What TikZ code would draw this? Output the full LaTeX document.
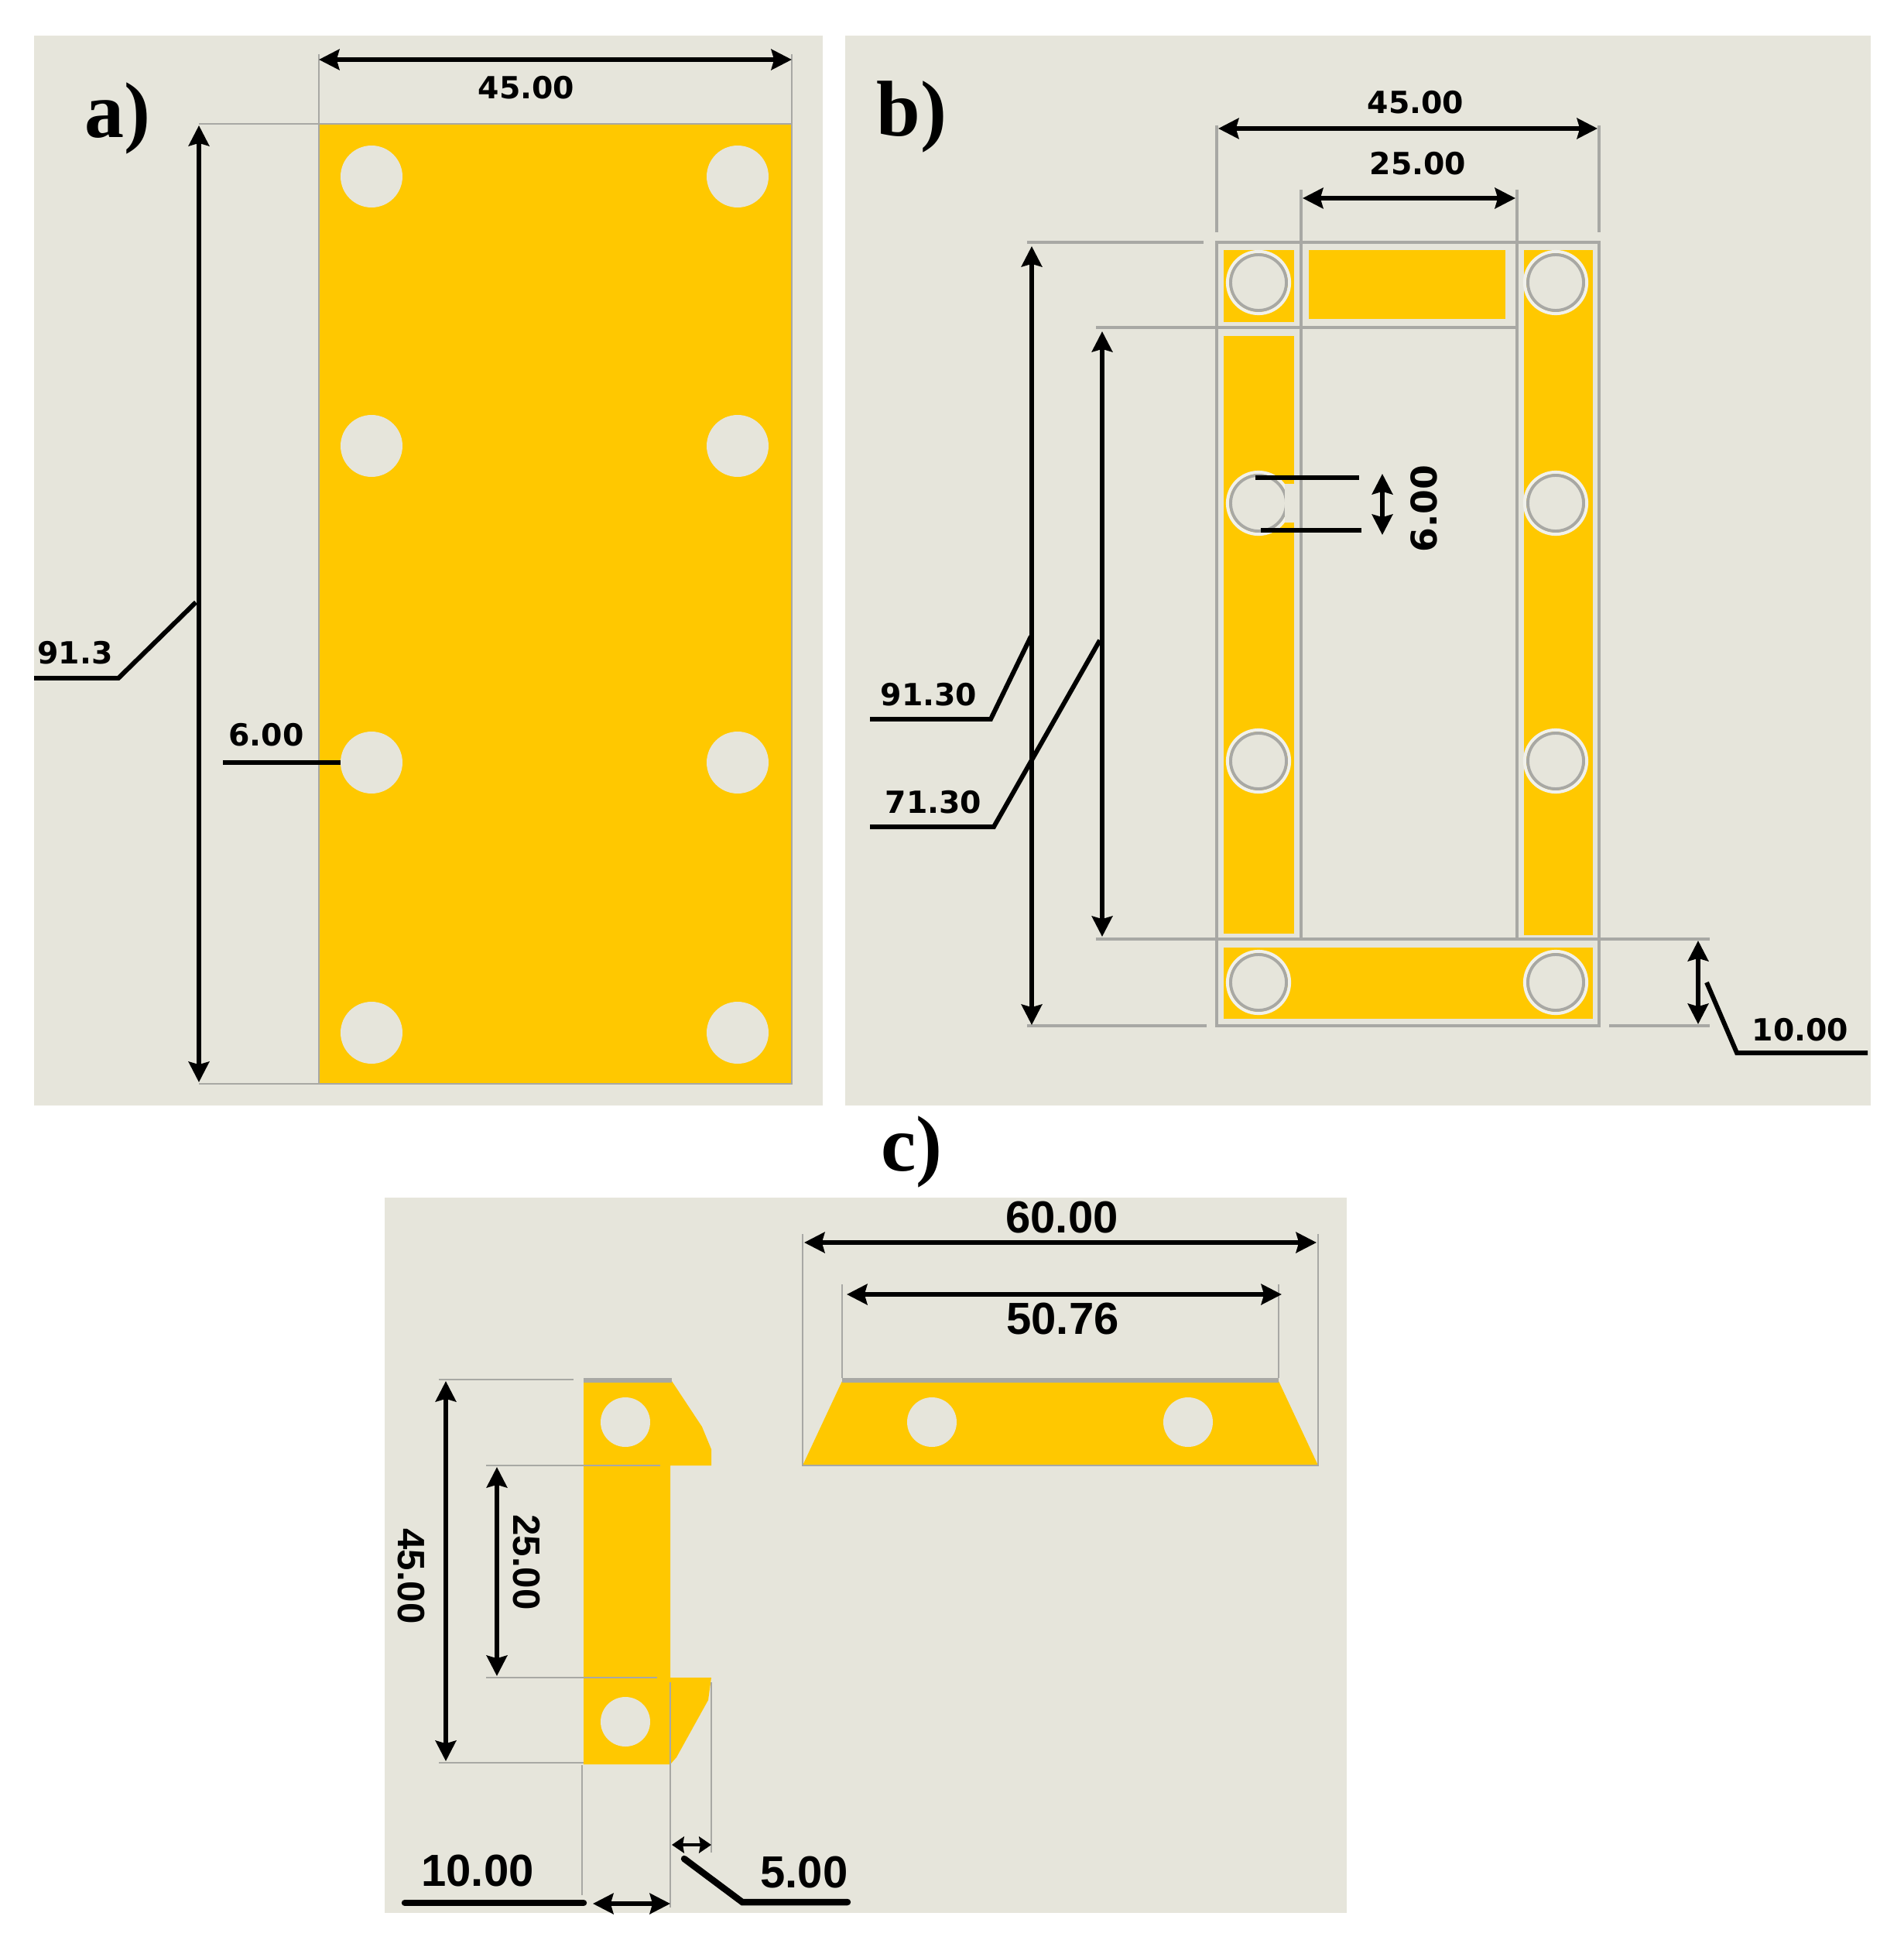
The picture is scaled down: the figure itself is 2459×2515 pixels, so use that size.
\documentclass[tikz,border=0pt]{standalone}
\usepackage{fontspec}
\setmainfont{Liberation Sans}
\newfontfamily\panelfont{Liberation Serif}
\newfontfamily\dimfont{DejaVu Sans}
\usetikzlibrary{arrows.meta}
\definecolor{sheetbg}{HTML}{E6E5DB}
\definecolor{plate}{HTML}{FFC800}
\definecolor{extgray}{HTML}{A8A8A4}
\tikzset
    {   panelbg/.style = {fill = sheetbg, draw = none}
    ,   platefill/.style = {fill = plate, draw = none}
    ,   hole/.style = {fill = sheetbg, draw = none}
    ,   ringhole/.style = {fill = sheetbg, draw = extgray, line width = 1.1pt}
    ,   extline/.style = {draw = extgray, line width = 0.9pt}
    ,   thinext/.style = {draw = extgray, line width = 0.5pt}
    ,   dimline/.style = {draw = black, line width = 1.7pt, {Stealth[inset = 1pt, length = 7.5pt, width = 7.5pt]}-{Stealth[inset = 1pt, length = 7.5pt, width = 7.5pt]}}
    ,   shortdim/.style = {draw = black, line width = 1.4pt, {Stealth[inset = 0.5pt, length = 4.5pt, width = 6pt]}-{Stealth[inset = 0.5pt, length = 4.5pt, width = 6pt]}}
    ,   leader/.style = {draw = black, line width = 1.7pt}
    ,   panellabel/.style = {font = \panelfont\bfseries\fontsize{29}{29}\selectfont, inner sep = 0pt}
    ,   dimlabel/.style = {font = \dimfont\bfseries\fontsize{11.2}{12}\selectfont, inner sep = 0pt}
    ,   biglabel/.style = {font = \bfseries\fontsize{16.5}{18}\selectfont, inner sep = 0pt}
    }
\begin{document}
\begin{tikzpicture}
        [   x = 0.01cm
        ,   y = -0.01cm
        ]
        \useasboundingbox (0,0) rectangle (2459,2515);
        % panel backgrounds
        \fill[panelbg] (44,46) rectangle (1063,1428);
        \fill[panelbg] (1092,46) rectangle (2417,1428);
        \fill[panelbg] (497,1547) rectangle (1740,2471);
        % panel a
        \fill[platefill] (412,160) rectangle (1023,1400);
        \foreach \xhole in {480,953}
            \foreach \yhole in {228,576,985,1334}
                \fill[hole] (\xhole,\yhole) circle (40);
        \coordinate (atl) at (412,160);
        \coordinate (atr) at (1023,160);
        \coordinate (abl) at (412,1400);
        \draw[thinext] (412,70) -- (atl) -- (257,160);
        \draw[thinext] (1023,70) -- (atr);
        \draw[thinext] (atl) -- (abl) -- (257,1400);
        \draw[thinext] (atl) -- (atr) -- (1023,1400) -- (abl);
        \coordinate (awl) at (412,77);
        \coordinate (awr) at (1023,77);
        \draw[dimline] (awl) -- (awr);
        \coordinate (aht) at (257,162);
        \coordinate (ahb) at (257,1398);
        \draw[dimline] (aht) -- (ahb);
        \coordinate (aelb) at (253,778);
        \coordinate (aenda) at (44,876);
        \draw[leader] (aenda) -- (153,876) -- (aelb);
        \coordinate (ahole) at (440,985);
        \coordinate (aendb) at (288,985);
        \draw[leader] (aendb) -- (ahole);
        \node[panellabel] (pa) at (152,153) {a)};
        \node[dimlabel] (awidth) at (680,113) {45.00};
        \node[dimlabel] (aheight) at (97,843) {91.3};
        \node[dimlabel] (adia) at (344,949) {6.00};
        % panel b
        \fill[platefill] (1581,323) rectangle (1672,416);
        \fill[platefill] (1691,323) rectangle (1945,412);
        \fill[platefill] (1969,323) rectangle (2058,1208);
        \fill[platefill] (1581,434) rectangle (1672,1206);
        \fill[platefill] (1581,1224) rectangle (2058,1316);
        \foreach \xhole in {1626,2010}
            \foreach \yhole in {365,650,983,1269}
                {
                \draw[draw = white!45!sheetbg, line width = 1.2pt] (\xhole,\yhole) circle (40);
                \draw[ringhole] (\xhole,\yhole) circle (36);
                }
        \fill[sheetbg] (1660,625) rectangle (1672,675);
        \draw[extline] (1572,313) rectangle (2066,1325);
        \draw[extline] (1681,423) rectangle (1960,1213);
        \draw[extline] (1572,162) -- (1572,300);
        \draw[extline] (2066,162) -- (2066,300);
        \draw[extline] (1681,245) -- (1681,423);
        \draw[extline] (1960,245) -- (1960,423);
        \draw[extline] (1327,313) -- (1555,313);
        \draw[extline] (1327,1325) -- (1559,1325);
        \draw[extline] (2079,1325) -- (2209,1325);
        \draw[extline] (1416,423) -- (1681,423);
        \draw[extline] (1416,1213) -- (2209,1213);
        \coordinate (bwl) at (1574,166);
        \coordinate (bwr) at (2064,166);
        \draw[dimline] (bwl) -- (bwr);
        \coordinate (bil) at (1683,256);
        \coordinate (bir) at (1958,256);
        \draw[dimline] (bil) -- (bir);
        \coordinate (boh) at (1333,318);
        \coordinate (bob) at (1333,1324);
        \draw[dimline] (boh) -- (bob);
        \coordinate (bih) at (1424,428);
        \coordinate (bib) at (1424,1210);
        \draw[dimline] (bih) -- (bib);
        \coordinate (btt) at (2194,1215);
        \coordinate (btb) at (2194,1323);
        \draw[dimline] (btt) -- (btb);
        \coordinate (bdt) at (1786,612);
        \coordinate (bdb) at (1786,691);
        \draw[dimline] (bdt) -- (bdb);
        \draw[leader] (1124,929) -- (1280,929) -- (1332,822);
        \draw[leader] (1124,1068) -- (1284,1068) -- (1421,827);
        \draw[leader] (2205,1269) -- (2244,1360) -- (2413,1360);
        \draw[leader] (1622,617) -- (1756,617);
        \draw[leader] (1629,685) -- (1759,685);
        \node[panellabel] (pb) at (1178,151) {b)};
        \node[dimlabel] (bwidth) at (1829,132) {45.00};
        \node[dimlabel] (binner) at (1832,211) {25.00};
        \node[dimlabel] (bouter) at (1200,897) {91.30};
        \node[dimlabel] (bopen) at (1206,1036) {71.30};
        \node[dimlabel] (bfoot) at (2326,1330) {10.00};
        \node[dimlabel, font = \dimfont\bfseries\fontsize{13}{14}\selectfont, rotate = 90] (bdia) at (1840,657) {6.00};
        % panel c
        \node[panellabel] (pc) at (1178,1488) {c)};
        \fill[platefill] (1088,1784) -- (1652,1784) -- (1703,1893) -- (1037,1893) -- cycle;
        \foreach \xhole in {1204,1535}
            \fill[hole] (\xhole,1837) circle (32);
        \draw[draw = extgray, line width = 1.8pt] (1088,1783) -- (1652,1783);
        \draw[thinext] (1037,1594) -- (1037,1893) -- (1703,1893) -- (1703,1594);
        \draw[thinext] (1088,1659) -- (1088,1780);
        \draw[thinext] (1652,1659) -- (1652,1780);
        \fill[platefill] (754,1784) -- (868,1784) -- (907,1843) -- (919,1872) -- (919,1893) -- (866,1893) -- (866,2167)
            -- (919,2167) -- (915,2196) -- (874,2270) -- (866,2279) -- (754,2279) -- cycle;
        \foreach \yhole in {1837,2224}
            \fill[hole] (808,\yhole) circle (32);
        \draw[draw = extgray, line width = 1.8pt] (754,1783) -- (868,1783);
        \draw[thinext] (567,1782) -- (741,1782);
        \draw[thinext] (567,2277) -- (754,2277);
        \draw[thinext] (628,1893) -- (853,1893);
        \draw[thinext] (628,2167) -- (849,2167);
        \draw[thinext] (752,2280) -- (752,2448);
        \draw[thinext] (866,2173) -- (866,2464);
        \draw[thinext] (919,2173) -- (919,2393);
        \coordinate (cwl) at (1039,1605);
        \coordinate (cwr) at (1701,1605);
        \draw[dimline] (cwl) -- (cwr);
        \coordinate (cil) at (1094,1672);
        \coordinate (cir) at (1656,1672);
        \draw[dimline] (cil) -- (cir);
        \coordinate (cht) at (576,1784);
        \coordinate (chb) at (576,2275);
        \draw[dimline] (cht) -- (chb);
        \coordinate (cgt) at (642,1895);
        \coordinate (cgb) at (642,2165);
        \draw[dimline] (cgt) -- (cgb);
        \coordinate (cel) at (868,2383);
        \coordinate (cer) at (919,2383);
        \draw[shortdim] (cel) -- (cer);
        \coordinate (cfl) at (766,2459);
        \coordinate (cfr) at (866,2459);
        \draw[dimline] (cfl) -- (cfr);
        \draw[leader, line width = 2.4pt, line cap = round] (523,2458) -- (754,2458);
        \draw[leader, line width = 2.4pt, line cap = round] (884,2401) -- (959,2457) -- (1095,2457);
        \node[biglabel] (cwidth) at (1372,1573) {60.00};
        \node[biglabel] (cinner) at (1373,1704) {50.76};
        \node[biglabel, font = \bfseries\fontsize{14}{15}\selectfont, rotate = -90] (cheight) at (531,2036) {45.00};
        \node[biglabel, font = \bfseries\fontsize{14}{15}\selectfont, rotate = -90] (cgap) at (680,2018) {25.00};
        \node[biglabel] (cfoot) at (617,2416) {10.00};
        \node[biglabel] (cedge) at (1039,2418) {5.00};
    \end{tikzpicture}
\end{document}
